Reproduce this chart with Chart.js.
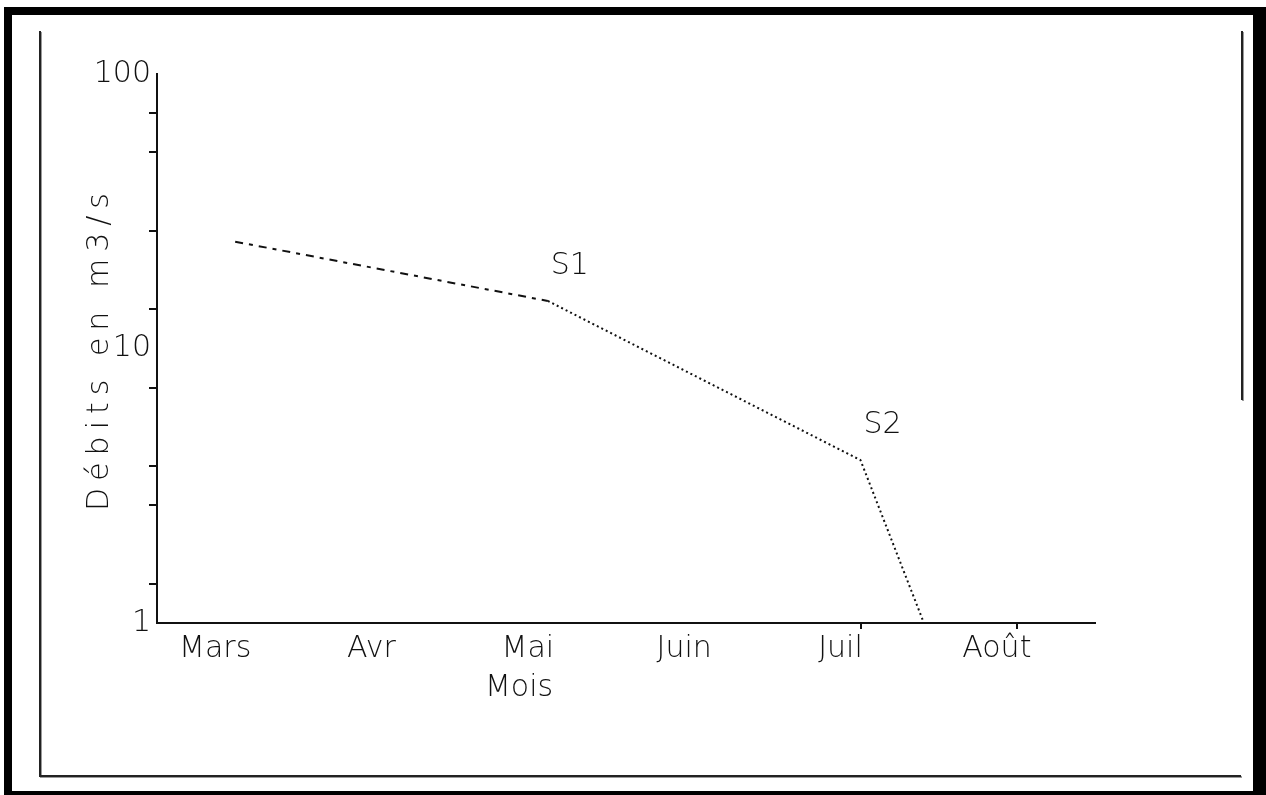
<!DOCTYPE html>
<html>
<head>
<meta charset="utf-8">
<title>Débits en m3/s</title>
<script src="https://cdn.jsdelivr.net/npm/chart.js@4/dist/chart.umd.min.js"></script>
<style>
  html, body { margin: 0; padding: 0; background: #fff; }
  body { width: 1266px; height: 795px; position: relative; overflow: hidden; }
  #frame {
    position: absolute; left: 4px; top: 7px; width: 1262px; height: 788px;
    box-sizing: border-box; border-style: solid; border-color: #000;
    border-width: 8px 13px 4px 8px;
  }
  .rule { position: absolute; background: #222; box-shadow: 1px 1px 0 #9a9a9a; }
  canvas { position: absolute; left: 0; top: 0; }
</style>
</head>
<body>
<div id="frame"></div>
<div class="rule" style="left:39px;top:31px;width:2px;height:746px"></div>
<div class="rule" style="left:39px;top:775px;width:1202px;height:2px"></div>
<div class="rule" style="left:1241px;top:31px;width:2px;height:369px"></div>
<canvas id="chart" width="1266" height="795"></canvas>
<script>
// Monthly discharge (m3/s), log scale
const months = ['Mars', 'Avr', 'Mai', 'Juin', 'Juil', 'Août'];
const debits = [24.5, null, 14.9, null, 3.92, 0.135];
const pointTags = ['', '', 'S1', '', 'S2', ''];
const yTickValues = [1, 1.39, 2.68, 3.73, 7.2, 10, 13.9, 26.8, 51.8, 72, 100];
const yLabelledValues = [1, 10, 100];
const xMarkedMonths = ['Juil', 'Août'];
const xTitle = 'Mois';
const yTitle = 'Débits en m3/s';

const FONT = '"DejaVu Sans", "Liberation Sans", sans-serif';
const INK = '#111';
const NONE = 'rgba(0,0,0,0)';
// the stretch up to S1 is dashed, the rest dotted
const dashedUntil = months.indexOf('Mai');

// Writes the S1 / S2 tags above their points
const tagPlugin = {
  id: 'pointTags',
  afterDatasetsDraw(chart) {
    const meta = chart.getDatasetMeta(0);
    const ctx = chart.ctx;
    ctx.save();
    ctx.fillStyle = INK;
    ctx.font = '200 30px ' + FONT;
    ctx.textAlign = 'center';
    ctx.textBaseline = 'middle';
    pointTags.forEach((tag, i) => {
      if (!tag) return;
      const p = meta.data[i];
      ctx.fillText(tag, p.x + 22, p.y - 35);
    });
    ctx.restore();
  }
};

// Axis titles
const axisTitlePlugin = {
  id: 'axisTitles',
  afterDraw(chart) {
    const ctx = chart.ctx;
    const a = chart.chartArea;
    ctx.save();
    ctx.fillStyle = INK;
    ctx.font = '200 30px ' + FONT;
    ctx.textAlign = 'center';
    ctx.textBaseline = 'middle';
    ctx.fillText(xTitle, a.left + (a.right - a.left) * 0.386, a.bottom + 65);
    ctx.translate(100, (a.top + a.bottom) / 2);
    ctx.rotate(-Math.PI / 2);
    ctx.letterSpacing = '7px';
    ctx.fillText(yTitle, 0, 0);
    ctx.restore();
  }
};

new Chart(document.getElementById('chart'), {
  type: 'line',
  data: {
    labels: months,
    datasets: [{
      data: debits,
      spanGaps: true,
      borderColor: INK,
      borderWidth: 2,
      pointRadius: 0,
      tension: 0,
      fill: false,
      segment: {
        borderDash: s => s.p1DataIndex <= dashedUntil ? [8, 6, 4, 6] : [2, 3]
      }
    }]
  },
  options: {
    responsive: false,
    animation: false,
    devicePixelRatio: 1,
    layout: { padding: { left: 0, top: 74, right: 171, bottom: 0 } },
    plugins: { legend: { display: false }, tooltip: { enabled: false } },
    scales: {
      x: {
        type: 'category',
        offset: true,
        grid: {
          drawOnChartArea: false,
          drawTicks: true,
          tickLength: 6,
          lineWidth: 2,
          tickColor: c => xMarkedMonths.includes(months[c.index]) ? INK : NONE
        },
        border: { display: true, color: INK, width: 2 },
        ticks: {
          color: INK,
          font: { family: FONT, size: 30, weight: 200 },
          labelOffset: -20,
          padding: 2,
          autoSkip: false,
          maxRotation: 0
        },
        afterFit: s => { s.height = 172; }
      },
      y: {
        type: 'logarithmic',
        min: 1,
        max: 100,
        afterBuildTicks: s => { s.ticks = yTickValues.map(v => ({ value: v })); },
        grid: {
          drawOnChartArea: false,
          drawTicks: true,
          tickLength: 8,
          lineWidth: 2,
          tickColor: c => (c.tick && yLabelledValues.includes(c.tick.value)) ? NONE : INK
        },
        border: { display: true, color: INK, width: 2 },
        ticks: {
          color: INK,
          font: { family: FONT, size: 30, weight: 200 },
          padding: -2,
          autoSkip: false,
          callback: v => yLabelledValues.includes(v) ? String(v) : ''
        },
        afterFit: s => { s.width = 157; }
      }
    }
  },
  plugins: [tagPlugin, axisTitlePlugin]
});
</script>
</body>
</html>
